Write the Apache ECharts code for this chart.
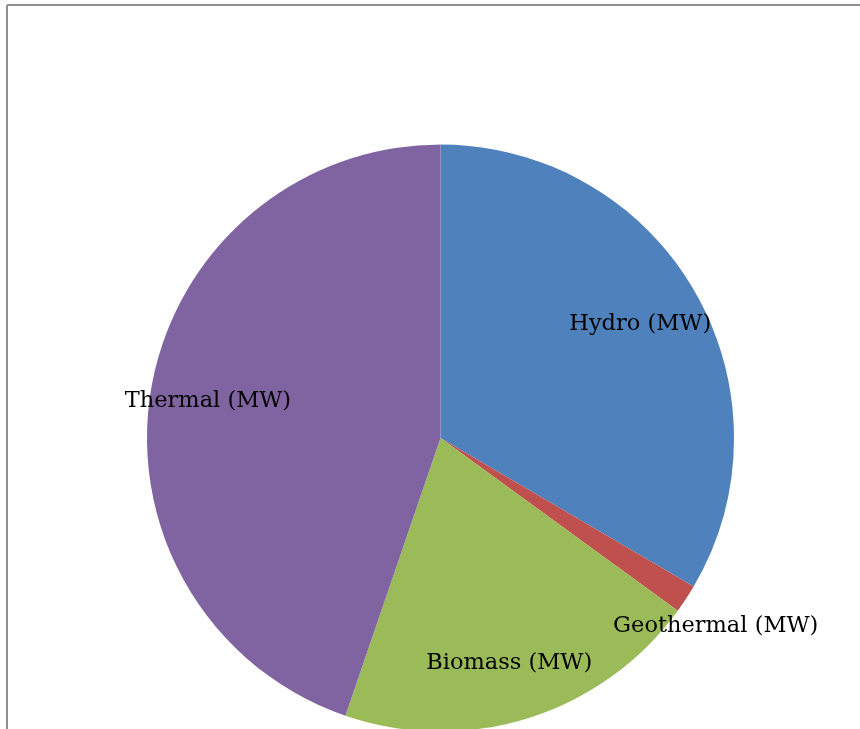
<!DOCTYPE html>
<html>
<head>
<meta charset="utf-8">
<script src="https://cdn.jsdelivr.net/npm/echarts@6/dist/echarts.min.js"></script>
<style>
html,body{margin:0;padding:0;background:#fff;}
#chart{width:860px;height:729px;}
</style>
</head>
<body>
<div id="chart"></div>
<script>
// Data (shares of installed capacity)
const categories = ['Hydro (MW)', 'Geothermal (MW)', 'Biomass (MW)', 'Thermal (MW)'];
const values = [1000, 47, 605, 1338];
const colors = ['#4F81BD', '#C0504D', '#9BBB59', '#8064A2'];

const chart = echarts.init(document.getElementById('chart'), null, {renderer: 'canvas'});

const CX = 440.5, CY = 438, R = 293.5;
const labelFont = {color: '#000', fontFamily: 'DejaVu Serif', fontSize: 22.5};
const labelNudge = [[-4, 3], [-5, 5], [-2, 1], [-1, 2]];

const pieData = categories.map((n, i) => ({name: n, value: values[i], itemStyle: {color: colors[i]}}));
const ghostData = categories.map((n, i) => ({
  name: n, value: values[i],
  label: {show: i !== 1, offset: labelNudge[i]}
}));
const ghostData2 = categories.map((n, i) => ({
  name: n, value: values[i],
  label: {show: i === 1, offset: labelNudge[i]}
}));

chart.setOption({
  animation: false,
  backgroundColor: '#fff',
  graphic: [
    {type: 'line', shape: {x1: 7, y1: 5, x2: 860, y2: 5}, style: {stroke: '#8f8f8f', lineWidth: 2}},
    {type: 'line', shape: {x1: 7, y1: 5, x2: 7, y2: 729}, style: {stroke: '#8f8f8f', lineWidth: 2}}
  ],
  series: [
    {
      type: 'pie', center: [CX, CY], radius: [0, R], startAngle: 90, clockwise: true,
      label: {show: false}, labelLine: {show: false}, silent: true,
      itemStyle: {borderWidth: 0},
      data: pieData
    },
    {
      type: 'pie', center: [CX, CY], radius: [170, R], startAngle: 90, clockwise: true,
      silent: true, itemStyle: {color: 'rgba(0,0,0,0)', borderWidth: 0},
      label: Object.assign({position: 'inside', formatter: '{b}'}, labelFont),
      labelLine: {show: false},
      data: ghostData, z: 3
    },
    {
      type: 'pie', center: [CX, CY], radius: [322, 342], startAngle: 90, clockwise: true,
      silent: true, itemStyle: {color: 'rgba(0,0,0,0)', borderWidth: 0},
      label: Object.assign({position: 'inside', formatter: '{b}'}, labelFont),
      labelLine: {show: false},
      data: ghostData2, z: 3
    }
  ]
});
</script>
</body>
</html>
